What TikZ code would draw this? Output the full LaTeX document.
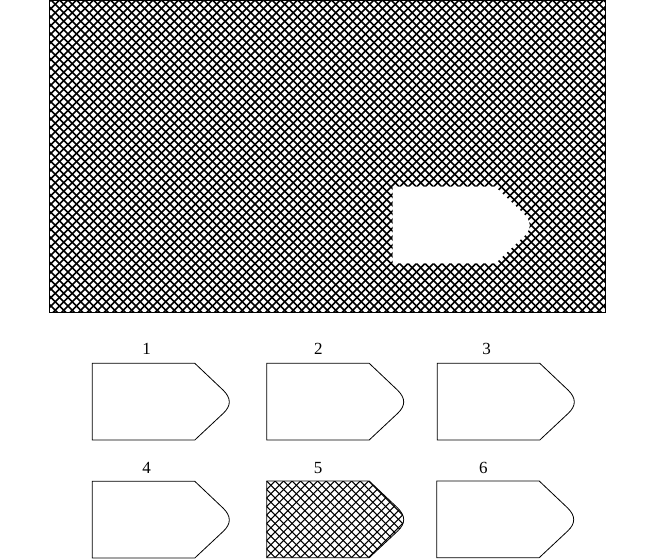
\documentclass[tikz,border=0pt]{standalone}
\usepackage{fontspec}
\setmainfont{Liberation Serif}
\tikzset{
  x=1pt, y=-1pt,
  tag/.pic={\path[pic actions] (0,0) -- (102.5,0) -- (131,27)
     .. controls (139,35) and (139,42.4) .. (131,50) -- (102.5,76.7) -- (0,76.7) -- cycle;},
  outline/.style={draw=black, line width=0.8pt, fill=white},
  hatchbig/.style={line width=1.7pt, black},
  hatchsmall/.style={line width=1.1pt, black},
  lbl/.style={font=\fontsize{17}{20}\selectfont, inner sep=0pt}
}
\begin{document}
\begin{tikzpicture}
\useasboundingbox (0,0) rectangle (670,560);
% big hatched panel
\begin{scope}
  \clip (49.5,0) rectangle (605,312);
  \foreach \i in {-40,...,115} {
    \draw[hatchbig] (\i*8.5,0) -- ++(340,340);
    \draw[hatchbig] (\i*8.5,0) -- ++(-340,340);
  }
\end{scope}
\draw[line width=0.8pt] (49.5,0) rectangle (605,312);
\pic[fill=white] (hole) at (392.7,186.7) {tag};
% options
\pic[outline] (opt1) at (92.3,363.3) {tag};
\pic[outline] (opt2) at (266.7,363.3) {tag};
\pic[outline] (opt3) at (437.3,363.3) {tag};
\pic[outline] (opt4) at (92.3,481.3) {tag};
\begin{scope}[shift={(266.7,481)}]
  \clip (0,0) -- (102.5,0) -- (131,27)
     .. controls (139,35) and (139,42.4) .. (131,50) -- (102.5,76.7) -- (0,76.7) -- cycle;
  \foreach \i in {-14,...,34} {
    \draw[hatchsmall] (\i*8.5,0) -- ++(100,100);
    \draw[hatchsmall] (\i*8.5,0) -- ++(-100,100);
  }
\end{scope}
\pic[draw=black, line width=0.8pt] (opt5) at (266.7,481) {tag};
\pic[outline] (opt6) at (436.7,481) {tag};
% labels
\node[lbl] (l1) at (146.7,349) {1};
\node[lbl] (l2) at (318.3,349) {2};
\node[lbl] (l3) at (486.7,349) {3};
\node[lbl] (l4) at (146.7,468) {4};
\node[lbl] (l5) at (318,468) {5};
\node[lbl] (l6) at (483.3,468) {6};
\end{tikzpicture}
\end{document}
